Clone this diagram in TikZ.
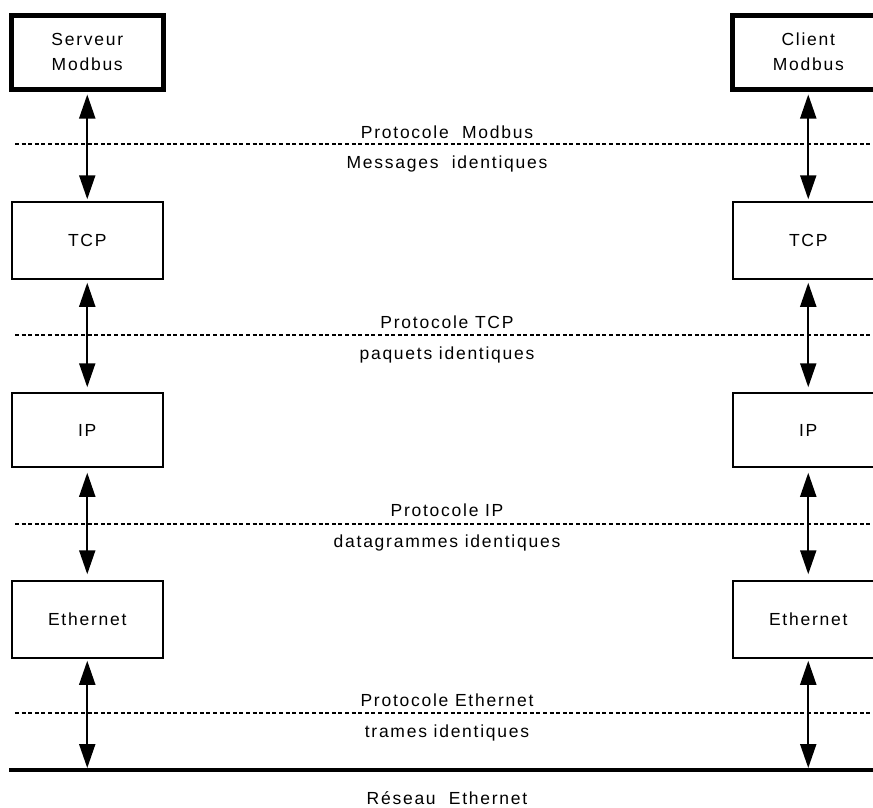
\documentclass[tikz,border=0pt]{standalone}
\usepackage{fontspec}
\setmainfont{Liberation Sans}[LetterSpace=10]
\usetikzlibrary{arrows.meta}
\begin{document}
\begin{tikzpicture}[x=1pt,y=-1pt,
  font=\fontsize{17.5}{25}\selectfont,
  box/.style={draw, line width=1.5pt, minimum width=151pt, minimum height=77pt, inner sep=0pt, align=center},
  topbox/.style={box, line width=5pt, minimum width=151.5pt, minimum height=74pt},
  link/.style={>={Triangle[length=24pt,width=16pt]}, <->, line width=2pt},
  sep/.style={line width=1.2pt, dash pattern=on 4pt off 2.6pt},
  lbl/.style={inner sep=0pt},
  net/.style={line width=4pt}]
\useasboundingbox (0,0) rectangle (873,807);
\clip (0,0) rectangle (873,807);
% left column
\node[topbox] (srvL) at (87.25,52) {Serveur\\Modbus};
\node[box] (tcpL) at (87.25,240.5) {TCP};
\node[box, minimum height=74pt] (ipL) at (87.25,430) {IP};
\node[box] (ethL) at (87.25,619.5) {Ethernet};
% right column
\node[topbox] (cliR) at (808.25,52) {Client\\Modbus};
\node[box] (tcpR) at (808.25,240.5) {TCP};
\node[box, minimum height=74pt] (ipR) at (808.25,430) {IP};
\node[box] (ethR) at (808.25,619.5) {Ethernet};
% network line
\coordinate (netA) at (9,770);
\coordinate (netB) at (873,770);
\coordinate (netL) at (87.25,770);
\coordinate (netR) at (808.25,770);
\draw[net] (netA) -- (netB);
% dotted separators
\foreach \n/\y in {1/144,2/335,3/524,4/713}{
  \coordinate (s\n a) at (15,\y);
  \coordinate (s\n b) at (873,\y);
  \draw[sep] (s\n a) -- (s\n b);
}
% arrows
\draw[link, shorten <=3pt, shorten >=2pt] (srvL.south) -- (tcpL.north);
\draw[link, shorten <=3pt, shorten >=5pt] (tcpL.south) -- (ipL.north);
\draw[link, shorten <=5pt, shorten >=6pt] (ipL.south) -- (ethL.north);
\draw[link, shorten <=2pt, shorten >=2pt] (ethL.south) -- (netL);
\draw[link, shorten <=3pt, shorten >=2pt] (cliR.south) -- (tcpR.north);
\draw[link, shorten <=3pt, shorten >=5pt] (tcpR.south) -- (ipR.north);
\draw[link, shorten <=5pt, shorten >=6pt] (ipR.south) -- (ethR.north);
\draw[link, shorten <=2pt, shorten >=2pt] (ethR.south) -- (netR);
% labels
\node[lbl] (p1) at (447,132) {Protocole\ \ Modbus};
\node[lbl] (m1) at (447,164) {Messages\ \ identiques};
\node[lbl] (p2) at (447,322) {Protocole TCP};
\node[lbl] (m2) at (447,355) {paquets identiques};
\node[lbl] (p3) at (447,510) {Protocole IP};
\node[lbl] (m3) at (447,543) {datagrammes identiques};
\node[lbl] (p4) at (447,700) {Protocole Ethernet};
\node[lbl] (m4) at (447,733) {trames identiques};
\node[lbl] (rn) at (447,798) {Réseau\ \ Ethernet};
\end{tikzpicture}
\end{document}
